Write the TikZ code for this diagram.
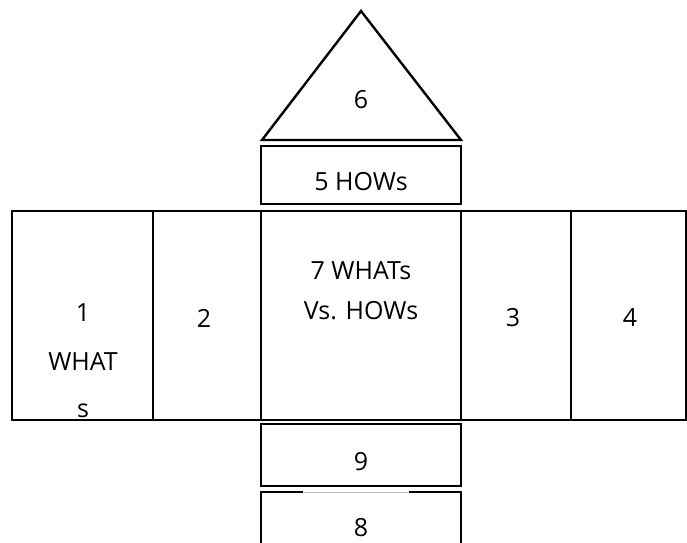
\documentclass[tikz,border=0pt]{standalone}
\usepackage{fontspec}
\setmainfont{Open Sans}

\begin{document}
\begin{tikzpicture}[x=1pt,y=-1pt,line width=2.4pt,
  cell/.style={draw,anchor=north west,outer sep=0pt,inner sep=0pt},
  lbl/.style={font=\fontsize{25}{30}\selectfont,inner sep=0pt}]
\useasboundingbox (0,0) rectangle (687,542);
% ---- roof: triangle 6 and box 5 ----
\draw[line join=miter] (262,140) coordinate (roofl) -- (361,11) coordinate (rooft)
  -- (461,140) coordinate (roofr) -- cycle;
\node[lbl] (six) at (361,100) {6};
\node[cell,minimum width=200pt,minimum height=58pt] (hows) at (261,146) {};
\node[lbl] (fivetxt) at (361,182) {5 HOWs};
% ---- main row: cells 1,2,7,3,4 ----
\foreach \x/\w/\n in {12/141/whats,153/108/two,261/200/rel,461/110/three,571/115/four}{
  \node[cell,minimum width=\w pt,minimum height=209pt] (\n) at (\x,211) {};
}
\node[lbl] (onea) at (83,313) {1};
\node[lbl] (oneb) at (83,362) {WHAT};
\node[lbl] (onec) at (83,411) {s};
\node[lbl] (twotxt) at (204,318) {2};
\node[lbl] (sevena) at (361,271) {7 WHATs};
\node[lbl] (sevenb) at (361,311) {Vs. HOWs};
\node[lbl] (threetxt) at (513,318) {3};
\node[lbl] (fourtxt) at (630,318) {4};
% ---- basement: boxes 9 and 8 ----
\node[cell,minimum width=200pt,minimum height=62pt] (nine) at (261,424) {};
\node[lbl] (ninetxt) at (361,462) {9};
\coordinate (eightl) at (261,492);
\coordinate (eightr) at (461,492);
\draw (eightl |- 0,545) -- (eightl) -- (303,492);
\draw (409,492) -- (eightr) -- (eightr |- 0,545);
\draw[gray!50,line width=0.8pt] (303,492) -- (409,492);
\node[lbl] (eighttxt) at (361,528) {8};
\end{tikzpicture}
\end{document}
